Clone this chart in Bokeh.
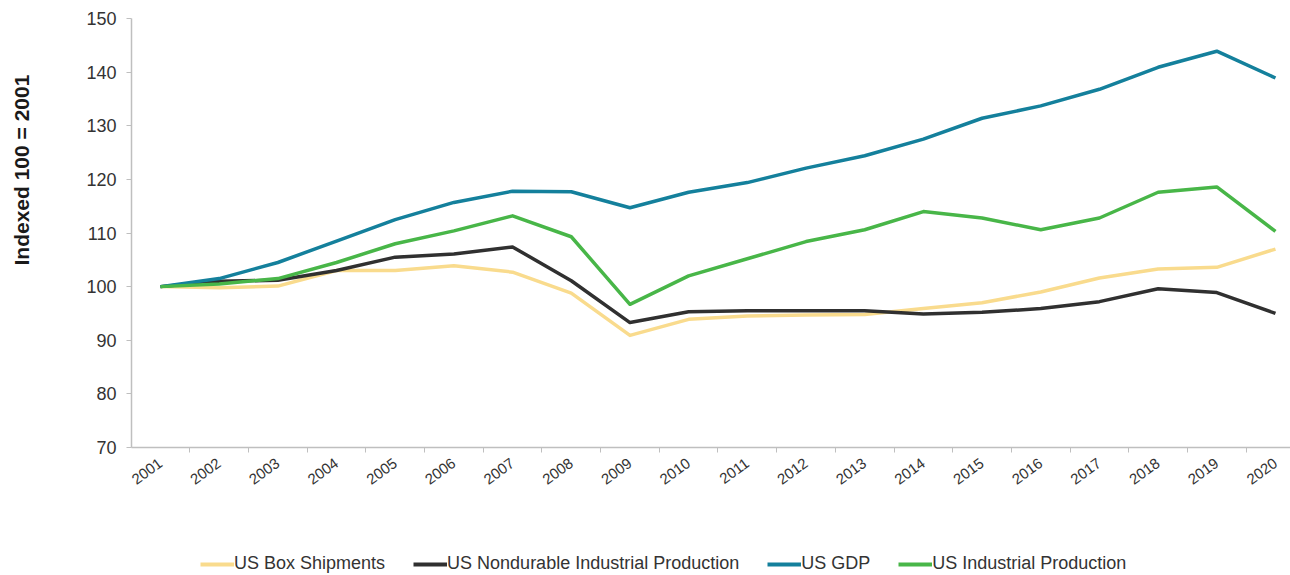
import math
from bokeh.plotting import figure
from bokeh.layouts import column
from bokeh.models import Range1d, FixedTicker, Legend, LegendItem, ColumnDataSource, Title
from bokeh.embed import file_html
from bokeh.resources import INLINE

years = list(range(2001, 2021))
box_shipments = [100, 99.8, 100.1, 103, 103, 103.9, 102.7, 98.8, 90.9, 93.9,
                 94.5, 94.7, 94.8, 95.9, 97.0, 99.0, 101.6, 103.3, 103.6, 107.0]
nondurable_ip = [100, 101.0, 101.2, 103.0, 105.5, 106.1, 107.4, 101.1, 93.3, 95.3,
                 95.5, 95.5, 95.5, 94.9, 95.2, 95.9, 97.2, 99.6, 98.9, 95.0]
us_gdp = [100, 101.5, 104.5, 108.5, 112.5, 115.7, 117.8, 117.7, 114.7, 117.6,
          119.4, 122.1, 124.4, 127.5, 131.4, 133.7, 136.8, 140.9, 143.9, 138.9]
us_ip = [100, 100.5, 101.5, 104.5, 108.0, 110.4, 113.2, 109.3, 96.7, 102.0,
         105.2, 108.4, 110.6, 114.0, 112.8, 110.6, 112.8, 117.6, 118.6, 110.3]

series_names = ["US Box Shipments", "US Nondurable Industrial Production", "US GDP", "US Industrial Production"]
series_values = [box_shipments, nondurable_ip, us_gdp, us_ip]
colors = ["#F9DB8D", "#303030", "#14809C", "#48B648"]

W = 1290
p = figure(width=W, height=540, output_backend="svg", toolbar_location=None,
           x_range=Range1d(2000.506, 2020.256), y_range=Range1d(70, 150),
           min_border_left=131, min_border_right=0, min_border_top=18, min_border_bottom=93)
p.outline_line_color = None
p.xgrid.grid_line_color = None
p.ygrid.grid_line_color = None

sources = []
for name, vals, c in zip(series_names, series_values, colors):
    src = ColumnDataSource(dict(x=years, y=vals))
    sources.append(src)
    p.line("x", "y", source=src, line_color=c, line_width=3.5, line_join="round")

# x axis
p.xaxis.ticker = FixedTicker(ticks=years, minor_ticks=[y - 0.5 for y in years] + [2020.5])
p.xaxis.major_tick_line_color = None
p.xaxis.minor_tick_line_color = "#BFBFBF"
p.xaxis.minor_tick_out = 5
p.xaxis.minor_tick_in = 0
p.xaxis.axis_line_color = "#BFBFBF"
p.xaxis.axis_line_width = 1.5
p.xaxis.major_label_orientation = math.pi / 5
p.xaxis.major_label_text_font = "Liberation Sans"
p.xaxis.major_label_text_font_size = "15px"
p.xaxis.major_label_text_color = "#333333"
p.xaxis.major_label_standoff = 8

# y axis
p.yaxis.ticker = FixedTicker(ticks=list(range(70, 151, 10)))
p.yaxis.major_tick_line_color = "#BFBFBF"
p.yaxis.major_tick_out = 5
p.yaxis.major_tick_in = 0
p.yaxis.minor_tick_line_color = None
p.yaxis.axis_line_color = "#BFBFBF"
p.yaxis.axis_line_width = 1.5
p.yaxis.major_label_text_font = "Liberation Sans"
p.yaxis.major_label_text_font_size = "18px"
p.yaxis.major_label_text_color = "#333333"
p.yaxis.major_label_standoff = 10

spacer = Title(text=" ", text_font_size="1px", standoff=43)
p.add_layout(spacer, "left")
ytitle = Title(text="Indexed 100 = 2001", align="left", offset=182, standoff=10,
               text_font="Liberation Sans", text_font_style="bold",
               text_font_size="21px", text_color="#1a1a1a")
p.add_layout(ytitle, "left")

# legend strip
lg = figure(width=W, height=35, output_backend="svg", toolbar_location=None,
            x_range=Range1d(0, 1), y_range=Range1d(0, 1),
            min_border_left=0, min_border_right=0, min_border_top=0, min_border_bottom=0)
lg.axis.visible = False
lg.grid.visible = False
lg.outline_line_color = None
items = []
for name, src, c in zip(series_names, sources, colors):
    r = lg.line("x", "y", source=src, line_color=c, line_width=4)
    items.append(LegendItem(label=name, renderers=[r]))
legend = Legend(items=items, orientation="horizontal", location=(69, 1),
                glyph_width=34, glyph_height=20, label_standoff=0, spacing=28,
                padding=0, margin=0, border_line_color=None, background_fill_alpha=0,
                label_text_font="Liberation Sans", label_text_font_size="18px",
                label_text_color="#333333")
lg.add_layout(legend, "center")

layout = column(p, lg, spacing=0)
open("out.html", "w").write(file_html(layout, INLINE))
